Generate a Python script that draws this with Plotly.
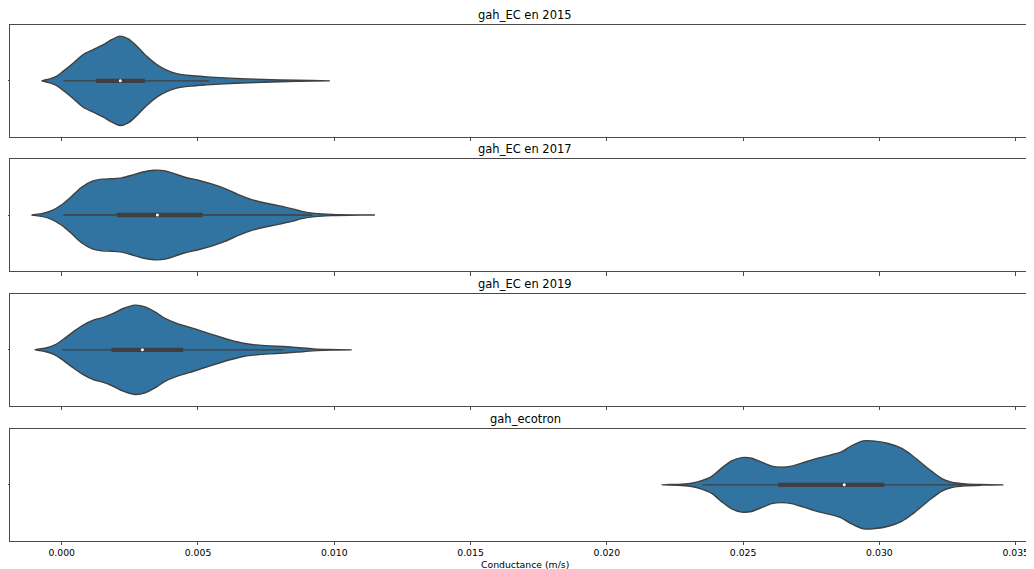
import plotly.graph_objects as go

# ---------------- data ----------------
panel_titles = ["gah_EC en 2015", "gah_EC en 2017", "gah_EC en 2019", "gah_ecotron"]

# density profile (relative, max = 1) along conductance
cond_2015 = [-0.00073, -0.00043, -0.00018, 0.00006, 0.00043, 0.00079, 0.00116, 0.00153,
             0.00183, 0.00214, 0.00244, 0.00275, 0.00312, 0.00349, 0.00385, 0.00422,
             0.00471, 0.00532, 0.00617, 0.00740, 0.00862, 0.00984]
dens_2015 = [0.0, 0.045, 0.105, 0.217, 0.40, 0.59, 0.70, 0.81, 0.92, 1.0, 0.94, 0.78,
             0.55, 0.365, 0.24, 0.163, 0.119, 0.09, 0.06, 0.03, 0.012, 0.0]

cond_2017 = [-0.00110, -0.00073, -0.00037, 0.0, 0.00037, 0.00073, 0.00110, 0.00147,
             0.00183, 0.00220, 0.00257, 0.00294, 0.00342, 0.00379, 0.00416, 0.00452,
             0.00501, 0.00550, 0.00599, 0.00648, 0.00697, 0.00746, 0.00795, 0.00844,
             0.00881, 0.00929, 0.00991, 0.01088, 0.01149]
dens_2017 = [0.0, 0.03, 0.097, 0.23, 0.42, 0.62, 0.75, 0.80, 0.81, 0.828, 0.888, 0.955,
             1.0, 0.985, 0.917, 0.843, 0.776, 0.694, 0.59, 0.455, 0.343, 0.269, 0.209,
             0.142, 0.082, 0.037, 0.015, 0.003, 0.0]

cond_2019 = [-0.00098, -0.00061, -0.00025, 0.00006, 0.00043, 0.00079, 0.00116, 0.00153,
             0.00189, 0.00226, 0.00269, 0.00306, 0.00342, 0.00379, 0.00422, 0.00471,
             0.00520, 0.00569, 0.00617, 0.00666, 0.00715, 0.00764, 0.00813, 0.00862,
             0.00923, 0.00984, 0.01064]
dens_2019 = [0.0, 0.037, 0.111, 0.237, 0.407, 0.556, 0.667, 0.726, 0.815, 0.926, 1.0,
             0.963, 0.852, 0.704, 0.593, 0.504, 0.407, 0.311, 0.222, 0.148, 0.111, 0.089,
             0.074, 0.052, 0.022, 0.007, 0.0]

cond_ecotron = [0.02201, 0.02275, 0.02311, 0.02348, 0.02385, 0.02421, 0.02458, 0.02495,
                0.02531, 0.02568, 0.02605, 0.02642, 0.02678, 0.02715, 0.02764, 0.02813,
                0.02862, 0.02898, 0.02941, 0.02984, 0.03033, 0.03082, 0.03118, 0.03155,
                0.03192, 0.03229, 0.03265, 0.03314, 0.03375, 0.03455]
dens_ecotron = [0.0, 0.015, 0.037, 0.096, 0.191, 0.375, 0.537, 0.61, 0.596, 0.507, 0.419,
                0.397, 0.419, 0.485, 0.581, 0.654, 0.743, 0.875, 0.985, 0.978, 0.926,
                0.816, 0.669, 0.485, 0.301, 0.140, 0.059, 0.022, 0.007, 0.0]

# inner box: whisker low, q1, median, q3, whisker high
box_2015 = [0.00006, 0.00126, 0.00215, 0.00305, 0.00541]
box_2017 = [0.00006, 0.00202, 0.00351, 0.00517, 0.00920]
box_2019 = [0.00002, 0.00183, 0.00296, 0.00446, 0.00813]
box_ecotron = [0.02350, 0.02629, 0.02871, 0.03018, 0.03320]

x_ticks = [0.000, 0.005, 0.010, 0.015, 0.020, 0.025, 0.030, 0.035]
x_label = "Conductance (m/s)"

series = [(cond_2015, dens_2015, box_2015), (cond_2017, dens_2017, box_2017),
          (cond_2019, dens_2019, box_2019), (cond_ecotron, dens_ecotron, box_ecotron)]

# ---------------- styling ----------------
OFF = 8                      # page body margin
W, H = 1034 - OFF, 569 - OFF
LM = 2                       # left margin inside the figure (room for y spine/tick)
FILL = "#3274a1"
GRAY = "#3f3f3f"
SPINE = "#4a4a4a"
FONT = "DejaVu Sans"
HALF_WIDTH = 0.4  # seaborn width 0.8
PX_PER_UNIT = 27257.0
X0_PX = 61.7                 # window x of value 0
x_range = [(OFF + LM - X0_PX) / PX_PER_UNIT, (1034 - X0_PX) / PX_PER_UNIT]
# panel pixel extents in window coordinates (top, bottom)
panels_px = [(25, 136.7), (159, 271), (294, 405.7), (429, 540.7)]
TITLE_CX = 525               # window x of title centre

fig = go.Figure()

for i, (xs, ds, bx) in enumerate(series):
    n = i + 1
    xa = "x" if n == 1 else f"x{n}"
    ya = "y" if n == 1 else f"y{n}"
    up = [HALF_WIDTH * d for d in ds]
    lo = [-HALF_WIDTH * d for d in ds]
    fig.add_trace(go.Scatter(
        x=list(xs) + list(xs[::-1]), y=up + lo[::-1],
        mode="lines", fill="toself", fillcolor=FILL,
        line=dict(color=GRAY, width=1.4, shape="spline", smoothing=0.8),
        xaxis=xa, yaxis=ya, showlegend=False, hoverinfo="skip"))
    fig.add_trace(go.Scatter(
        x=[bx[0], bx[4]], y=[0, 0], mode="lines",
        line=dict(color=GRAY, width=1.4), xaxis=xa, yaxis=ya,
        showlegend=False, hoverinfo="skip"))
    fig.add_trace(go.Scatter(
        x=[bx[1], bx[3]], y=[0, 0], mode="lines",
        line=dict(color=GRAY, width=4.3), xaxis=xa, yaxis=ya,
        showlegend=False, hoverinfo="skip"))
    fig.add_trace(go.Scatter(
        x=[bx[2]], y=[0], mode="markers",
        marker=dict(color="white", size=3, line=dict(width=0)),
        xaxis=xa, yaxis=ya, showlegend=False, hoverinfo="skip"))

layout = dict(
    width=W, height=H,
    margin=dict(l=LM, r=0, t=0, b=0),
    paper_bgcolor="white", plot_bgcolor="white",
    font=dict(family=FONT, color="black", size=9.3),
    showlegend=False,
)

PW = W - LM
annotations = []
for i, (top, bot) in enumerate(panels_px):
    n = i + 1
    xkey = "xaxis" if n == 1 else f"xaxis{n}"
    ykey = "yaxis" if n == 1 else f"yaxis{n}"
    yanchor_name = "y" if n == 1 else f"y{n}"
    t, b = top - OFF, bot - OFF
    layout[xkey] = dict(
        domain=[0, 1], anchor=yanchor_name, range=x_range,
        tickvals=x_ticks, ticktext=[f"{v:.3f}" for v in x_ticks],
        showticklabels=(n == 4), ticks="outside", ticklen=3.5, tickwidth=1,
        tickcolor=SPINE, showline=True, linecolor=SPINE, linewidth=1, mirror=True,
        showgrid=False, zeroline=False, automargin=False,
        tickfont=dict(family=FONT, size=9.3, color="black"),
    )
    if n > 1:
        layout[xkey]["matches"] = "x"
    layout[ykey] = dict(
        domain=[1 - b / H, 1 - t / H], anchor="x" if n == 1 else f"x{n}",
        range=[-0.5, 0.5], tickvals=[0], ticktext=[""], ticks="outside",
        ticklen=2, tickwidth=1, tickcolor=SPINE, showline=True, linecolor=SPINE,
        linewidth=1, mirror=False, showgrid=False, zeroline=False, automargin=False,
    )
    annotations.append(dict(
        text=panel_titles[i], xref="paper", yref="paper",
        x=(TITLE_CX - OFF - LM) / PW, y=1 - (t - 10) / H,
        xanchor="center", yanchor="middle", showarrow=False,
        font=dict(family=FONT, size=11.5, color="black")))

annotations.append(dict(
    text=x_label, xref="paper", yref="paper",
    x=(TITLE_CX - OFF - LM) / PW, y=1 - (564.5 - OFF) / H, xanchor="center",
    yanchor="middle", showarrow=False,
    font=dict(family=FONT, size=9.3, color="black")))

layout["annotations"] = annotations
fig.update_layout(**layout)

fig.write_html("out.html")
